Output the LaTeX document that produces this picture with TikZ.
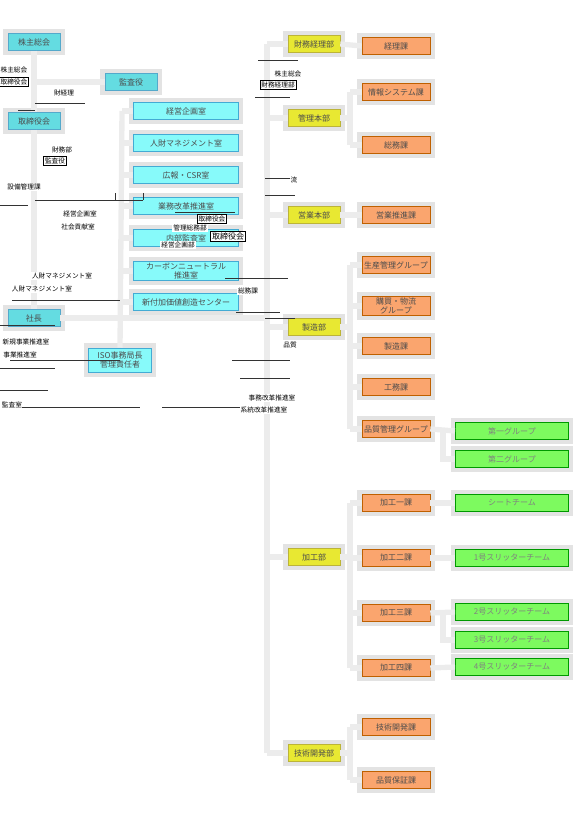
\documentclass[tikz,border=0pt]{standalone}
\usepackage{fontspec}
\setmainfont{Noto Sans CJK JP}
\definecolor{staffcyan}{RGB}{135,250,250}
\definecolor{topcyan}{RGB}{100,220,225}
\definecolor{divyellow}{RGB}{232,232,50}
\definecolor{secorange}{RGB}{250,165,110}
\definecolor{teamgreen}{RGB}{125,250,95}
\begin{document}
\begin{tikzpicture}[x=0.75pt, y=-0.75pt,
    box/.style={minimum height=12.5pt, inner sep=1pt, align=center,
        font=\fontsize{6}{6.5}\selectfont, text=black!70,
        preaction={draw=gray!22, line width=7pt}},
    topbox/.style={box, fill=topcyan, draw=cyan!60!gray, minimum width=39pt},
    staffbox/.style={box, fill=staffcyan, draw=cyan!70!gray, minimum width=79pt},
    divbox/.style={box, fill=divyellow, draw=yellow!70!black, minimum width=39pt},
    secbox/.style={box, fill=secorange, draw=orange!75!black, minimum width=51pt},
    teambox/.style={box, fill=teamgreen, draw=green!60!black, minimum width=85pt, text=black!50},
    link/.style={draw=gray!15, line width=4pt},
    frag/.style={font=\fontsize{5}{5.5}\selectfont, inner sep=1pt, fill=white},
    fragline/.style={draw=black!80, line width=0.5pt}
]
\useasboundingbox (0,0) rectangle (577,817);

% connectors
\coordinate (trunk) at (267,0);
\coordinate (spine) at (122,0);
\coordinate (fork) at (350,0);
\coordinate (tfork) at (443,0);

% top of the chart
\node[topbox] (kabunushi) at (34,42) {株主総会};
\node[topbox] (kansa) at (131,82) {監査役};
\node[topbox] (torishimari) at (34,121) {取締役会};
\node[topbox] (shacho) at (34,318) {社長};
\node[staffbox, minimum width=47pt, minimum height=18pt] (iso) at (120,360) {ISO事務局長\\管理責任者};

% staff column
\node[staffbox] (staff1) at (186,111) {経営企画室};
\node[staffbox] (staff2) at (186,143) {人財マネジメント室};
\node[staffbox] (staff3) at (186,175) {広報・CSR室};
\node[staffbox] (staff4) at (186,206) {業務改革推進室};
\node[staffbox] (staff5) at (186,238) {内部監査室};
\node[staffbox] (staff6) at (186,271) {カーボンニュートラル\\推進室};
\node[staffbox] (staff7) at (186,302) {新付加価値創造センター};

% divisions
\node[divbox] (div1) at (314,44) {財務経理部};
\node[divbox] (div2) at (314,118) {管理本部};
\node[divbox] (div3) at (314,215) {営業本部};
\node[divbox] (div4) at (314,327) {製造部};
\node[divbox] (div5) at (314,557) {加工部};
\node[divbox] (div6) at (314,753) {技術開発部};

% sections
\node[secbox] (sec1) at (396,46) {経理課};
\node[secbox] (sec2) at (396,92) {情報システム課};
\node[secbox] (sec3) at (396,145) {総務課};
\node[secbox] (sec4) at (396,215) {営業推進課};
\node[secbox] (sec5) at (396,265) {生産管理グループ};
\node[secbox] (sec6) at (396,306) {購買・物流\\グループ};
\node[secbox] (sec7) at (396,346) {製造課};
\node[secbox] (sec8) at (396,387) {工務課};
\node[secbox] (sec9) at (396,429) {品質管理グループ};
\node[secbox] (sec10) at (396,503) {加工一課};
\node[secbox] (sec11) at (396,558) {加工二課};
\node[secbox] (sec12) at (396,613) {加工三課};
\node[secbox] (sec13) at (396,668) {加工四課};
\node[secbox] (sec14) at (396,727) {技術開発課};
\node[secbox] (sec15) at (396,780) {品質保証課};

% teams
\node[teambox] (team1) at (512,431) {第一グループ};
\node[teambox] (team2) at (512,459) {第二グループ};
\node[teambox] (team3) at (512,503) {シートチーム};
\node[teambox] (team4) at (512,558) {1号スリッターチーム};
\node[teambox] (team5) at (512,612) {2号スリッターチーム};
\node[teambox] (team6) at (512,640) {3号スリッターチーム};
\node[teambox] (team7) at (512,667) {4号スリッターチーム};

\draw[link] (kabunushi) -- (torishimari) -- (shacho);
\draw[link] (kansa.west) -- (kabunushi.south |- kansa);
\draw[link] (shacho.east) -- (trunk |- shacho);
\draw[link] (spine |- staff1) -- (iso.north);
\foreach \s in {1,...,7}
    \draw[link] (spine |- staff\s) -- (staff\s.west);
\draw[link] (trunk |- div1) -- (trunk |- div6);
\foreach \d in {1,...,6}
    \draw[link] (trunk |- div\d) -- (div\d.west);
\draw[link] (div1.east) -- (sec1.west);
\draw[link] (div3.east) -- (sec4.west);
\draw[link] (div2.east) -- (fork |- div2);
\draw[link] (fork |- sec2) -- (fork |- sec3);
\draw[link] (div4.east) -- (fork |- div4);
\draw[link] (fork |- sec5) -- (fork |- sec9);
\draw[link] (div5.east) -- (fork |- div5);
\draw[link] (fork |- sec10) -- (fork |- sec13);
\draw[link] (div6.east) -- (fork |- div6);
\draw[link] (fork |- sec14) -- (fork |- sec15);
\foreach \s in {2,3,5,6,7,8,9,10,11,12,13,14,15}
    \draw[link] (fork |- sec\s) -- (sec\s.west);
\draw[link] (sec9.east) -- (team1.west);
\draw[link] (tfork |- team1) |- (team2.west);
\draw[link] (sec10.east) -- (team3.west);
\draw[link] (sec11.east) -- (team4.west);
\draw[link] (sec12.east) -- (team5.west);
\draw[link] (tfork |- team5) |- (team6.west);
\draw[link] (sec13.east) -- (team7.west);

% stray labels
\node[frag] (f1) at (14,70) {株主総会};
\node[frag, draw] (f2) at (14,82) {取締役会};
\node[frag] (f3) at (64,93) {財経理};
\node[frag] (f4) at (62,150) {財務部};
\node[frag, draw] (f5) at (55,161) {監査役};
\node[frag] (f6) at (24,187) {設備管理課};
\node[frag] (f7) at (80,214) {経営企画室};
\node[frag] (f8) at (78,227) {社会貢献室};
\node[frag] (f9) at (62,276) {人財マネジメント室};
\node[frag] (f10) at (42,289) {人財マネジメント室};
\node[frag] (f11) at (26,342) {新規事業推進室};
\node[frag] (f12) at (20,355) {事業推進室};
\node[frag] (f13) at (12,405) {監査室};
\node[frag] (f14) at (288,74) {株主総会};
\node[frag, draw] (f15) at (278,85) {財務経理部};
\node[frag, draw] (f16) at (212,219) {取締役会};
\node[frag] (f17) at (190,228) {管理総務部};
\node[frag, draw, font=\fontsize{6}{6.5}\selectfont] (f18) at (228,236) {取締役会};
\node[frag] (f19) at (178,245) {経営企画部};
\node[frag] (f20) at (248,291) {総務課};
\node[frag] (f21) at (294,180) {流};
\node[frag] (f22) at (272,398) {事務改革推進室};
\node[frag] (f23) at (264,410) {系統改革推進室};
\node[frag] (f24) at (290,345) {品質};

\draw[fragline] (35,103) -- (85,103);
\draw[fragline] (18,110) -- (35,110);
\draw[fragline] (35,200) -- (115,200) -- (115,193);
\draw[fragline] (0,205) -- (28,205);
\draw[fragline] (12,300) -- (120,300);
\draw[fragline] (0,325) -- (55,325);
\draw[fragline] (0,368) -- (55,368);
\draw[fragline] (0,390) -- (48,390);
\draw[fragline] (48,200) -- (143,200);
\draw[fragline] (143,200) -- (143,193);
\draw[fragline] (10,360) -- (120,360);
\draw[fragline] (22,407) -- (140,407);
\draw[fragline] (162,407) -- (240,407);
\draw[fragline] (240,378) -- (290,378);
\draw[fragline] (232,360) -- (290,360);
\draw[fragline] (175,212) -- (235,212);
\draw[fragline] (225,278) -- (288,278);
\draw[fragline] (236,312) -- (280,312);
\draw[fragline] (258,60) -- (298,60);
\draw[fragline] (255,97) -- (290,97);
\draw[fragline] (265,178) -- (290,178);
\draw[fragline] (265,195) -- (295,195);
\draw[fragline] (265,318) -- (295,318);
\end{tikzpicture}
\end{document}
